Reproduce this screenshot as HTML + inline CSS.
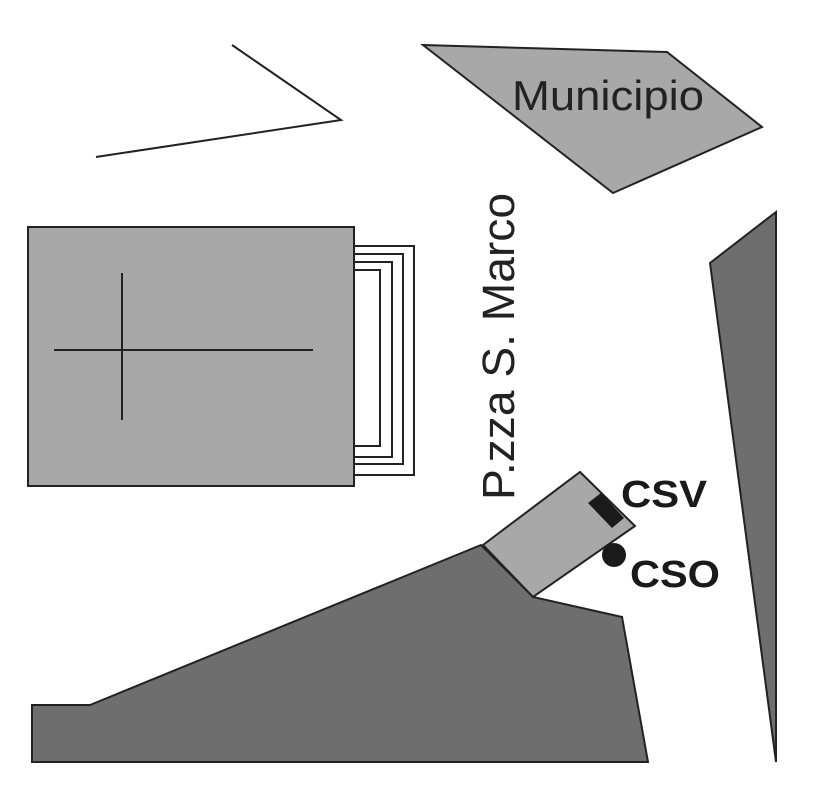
<!DOCTYPE html>
<html><head><style>body{margin:0;background:#fff}</style></head><body>
<svg width="826" height="803" viewBox="0 0 826 803" xmlns="http://www.w3.org/2000/svg" font-family="Liberation Sans, sans-serif">
<rect width="826" height="803" fill="#fff"/>
<polyline points="232,45 341,120 96,157" fill="none" stroke="#222" stroke-width="2"/>
<polygon points="423,45 667,52 762,127 613,193" fill="#a8a8a8" stroke="#222" stroke-width="2"/>
<text x="512" y="110" font-size="42" fill="#222" textLength="192" lengthAdjust="spacingAndGlyphs">Municipio</text>
<rect x="354" y="246" width="60" height="229" fill="#fff" stroke="#222" stroke-width="2"/>
<rect x="354" y="254" width="49" height="210" fill="#fff" stroke="#222" stroke-width="2"/>
<rect x="354" y="262" width="38" height="195" fill="#fff" stroke="#222" stroke-width="2"/>
<rect x="354" y="270" width="26" height="176" fill="#fff" stroke="#222" stroke-width="2"/>
<rect x="28" y="227" width="326" height="259" fill="#a8a8a8" stroke="#222" stroke-width="2"/>
<line x1="54" y1="350" x2="313" y2="350" stroke="#222" stroke-width="2"/>
<line x1="122" y1="273" x2="122" y2="420" stroke="#222" stroke-width="2"/>
<text transform="translate(514,500) rotate(-90)" font-size="45" fill="#222" textLength="307" lengthAdjust="spacingAndGlyphs">P.zza S. Marco</text>
<polygon points="710,263 776,212 776,762" fill="#6e6e6e" stroke="#222" stroke-width="2"/>
<polygon points="32,705 90,705 481,545 533,597 622,617 648,762 32,762" fill="#6e6e6e" stroke="#222" stroke-width="2"/>
<polygon points="483,545 580,472 635,526 533,597" fill="#a8a8a8" stroke="#222" stroke-width="2"/>
<polygon points="588,503 601,493 624,518 612,528" fill="#1a1a1a"/>
<circle cx="614" cy="555" r="12" fill="#1a1a1a"/>
<text x="621" y="507" font-size="38" font-weight="bold" fill="#1a1a1a" textLength="86" lengthAdjust="spacingAndGlyphs">CSV</text>
<text x="630" y="587" font-size="38" font-weight="bold" fill="#1a1a1a" textLength="90" lengthAdjust="spacingAndGlyphs">CSO</text>
</svg>
</body></html>
